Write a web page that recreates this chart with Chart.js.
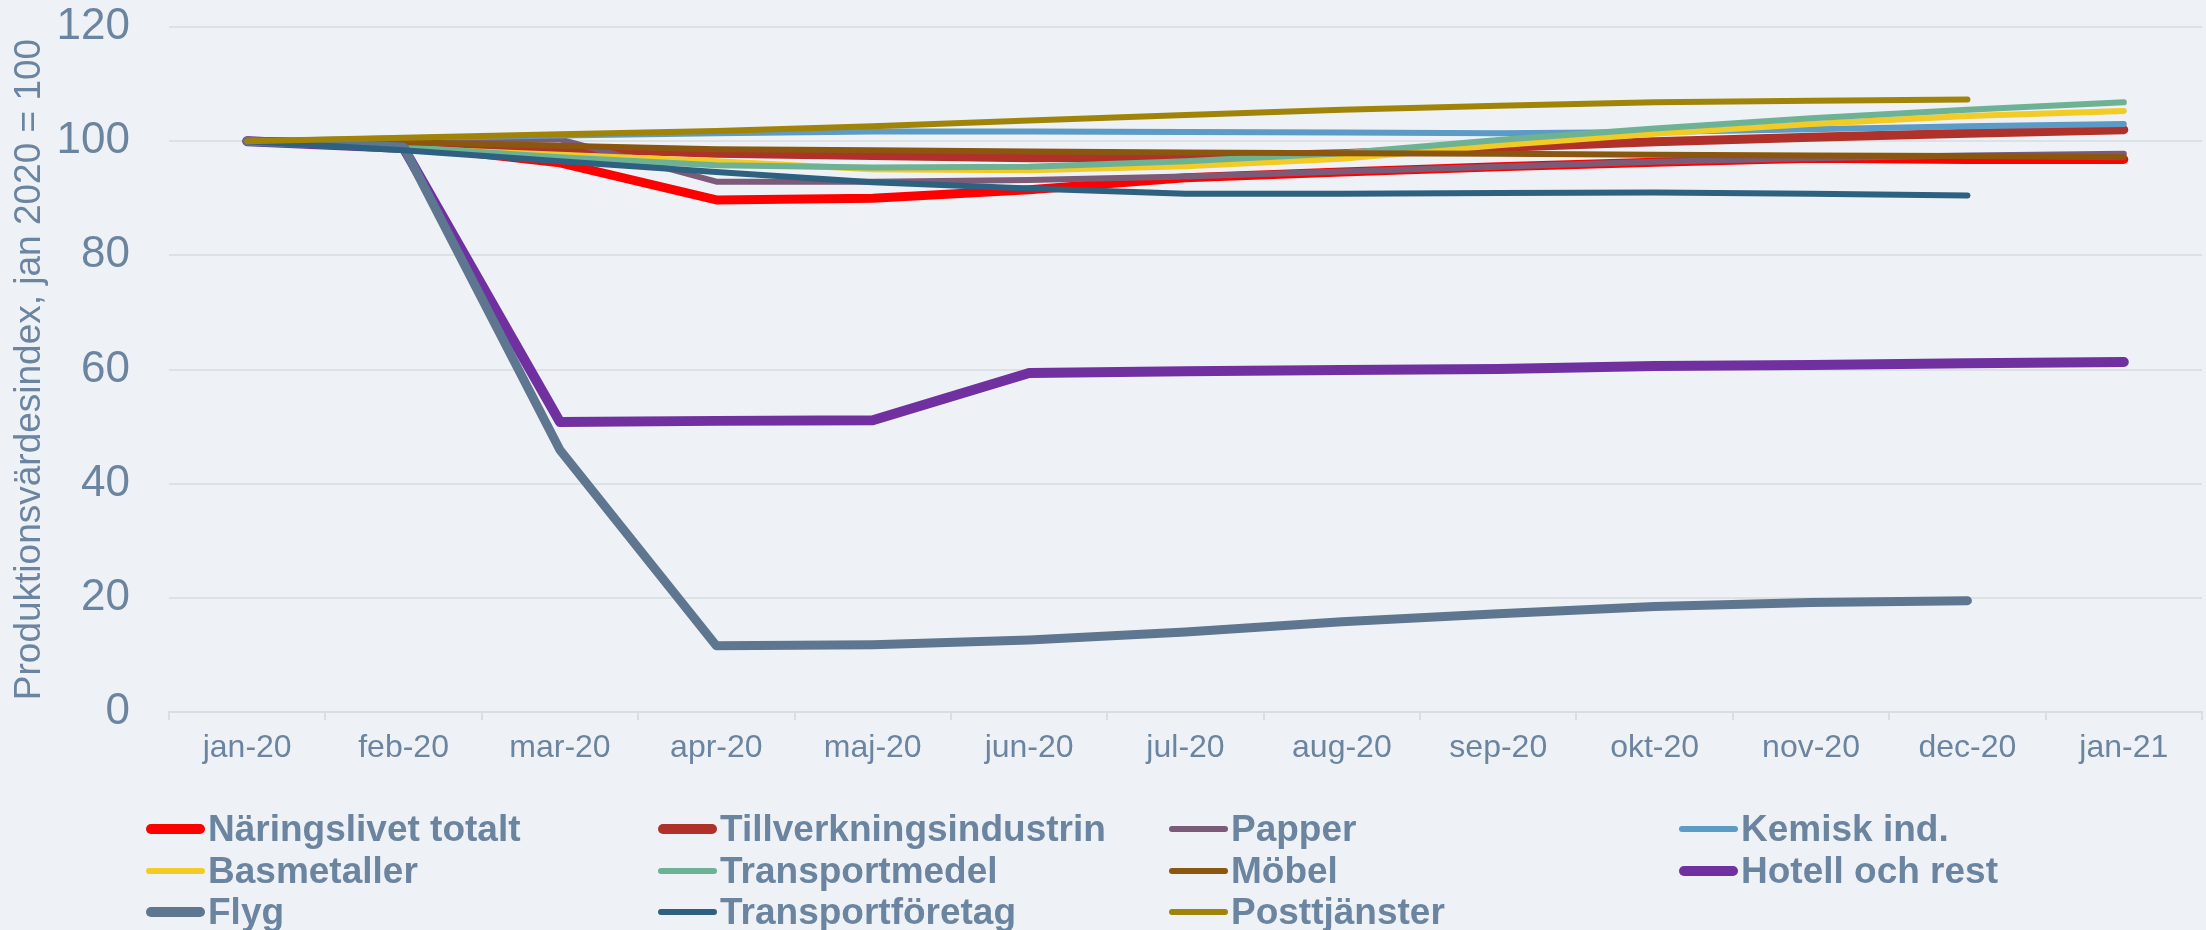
<!DOCTYPE html>
<html>
<head>
<meta charset="utf-8">
<script src="https://cdn.jsdelivr.net/npm/chart.js@4/dist/chart.umd.min.js"></script>
<style>
html,body{margin:0;padding:0;background:#EEF2F6;width:2206px;height:930px;overflow:hidden;font-family:'Liberation Sans',Arial,sans-serif;}
#wrap{position:absolute;left:0;top:0;width:2206px;height:790px;}
#legend{position:absolute;left:0;top:0;width:2206px;height:930px;pointer-events:none;}
.item{position:absolute;display:flex;align-items:center;height:42px;}
.sw{width:59px;border-radius:6px;margin-right:3px;}
.lbl{font-weight:bold;font-size:37px;color:#6B84A0;white-space:nowrap;line-height:42px;}
</style>
</head>
<body>
<div id="wrap"><canvas id="c" width="2206" height="790"></canvas></div>
<div id="legend"></div>
<script>
// Categories
const labels = ['jan-20','feb-20','mar-20','apr-20','maj-20','jun-20','jul-20','aug-20','sep-20','okt-20','nov-20','dec-20','jan-21'];
// Y ticks
const yTicks = [0,20,40,60,80,100,120];
const yTitle = 'Produktionsvärdesindex, jan 2020 = 100';

// Series values
const naringslivet     = [100, 99.3, 96.2, 89.7, 90.0, 91.5, 93.6, 94.6, 95.5, 96.3, 97.0, 96.8, 96.8];
const tillverkning     = [100, 99.6, 98.8, 97.9, 97.5, 97.1, 97.2, 97.8, 98.9, 99.9, 100.7, 101.4, 102.0];
const papper           = [100, 100.0, 100.3, 92.9, 92.9, 93.2, 93.8, 94.7, 95.5, 96.4, 97.0, 97.5, 97.8];
const kemisk           = [100, 100.5, 101.0, 101.4, 101.7, 101.7, 101.6, 101.5, 101.4, 101.6, 102.1, 102.6, 103.0];
const basmetaller      = [100, 98.7, 97.6, 96.5, 95.1, 94.9, 95.6, 96.9, 99.3, 101.3, 103.0, 104.4, 105.3];
const transportmedel   = [100, 99.0, 97.2, 95.8, 95.4, 95.5, 96.5, 97.9, 100.2, 102.2, 104.0, 105.5, 106.8];
const mobel            = [100, 99.8, 99.2, 98.6, 98.4, 98.2, 98.0, 97.9, 97.8, 97.6, 97.5, 97.4, 97.2];
const hotell           = [100, 98.8, 50.8, 51.0, 51.1, 59.4, 59.7, 59.9, 60.1, 60.6, 60.8, 61.1, 61.3];
const flyg             = [100, 99.0, 45.9, 11.6, 11.8, 12.6, 14.0, 15.8, 17.2, 18.5, 19.2, 19.5, null];
const transportforetag = [100, 98.4, 96.5, 94.6, 92.8, 91.7, 90.8, 90.8, 90.9, 91.0, 90.8, 90.5, null];
const posttjanster     = [100, 100.6, 101.2, 101.8, 102.6, 103.6, 104.6, 105.5, 106.2, 106.8, 107.1, 107.3, null];

const seriesNames = ['Näringslivet totalt','Tillverkningsindustrin','Papper','Kemisk ind.','Basmetaller','Transportmedel','Möbel','Hotell och rest','Flyg','Transportföretag','Posttjänster'];
const seriesData = [naringslivet, tillverkning, papper, kemisk, basmetaller, transportmedel, mobel, hotell, flyg, transportforetag, posttjanster];
const seriesColors = ['#FF0000','#B0302A','#7B5B78','#5B9BC6','#F2CB25','#6DB294','#8B560E','#7030A0','#5E7690','#2E6080','#A0840A'];
const seriesWidths = [9, 9, 6, 6, 6, 6, 6, 10, 9, 6, 6];

const textColor = '#6B84A0';
Chart.defaults.font.family = "'Liberation Sans', Arial, sans-serif";
Chart.defaults.color = textColor;

const datasets = seriesNames.map((n, i) => ({
  label: n,
  data: seriesData[i],
  borderColor: seriesColors[i],
  backgroundColor: seriesColors[i],
  borderWidth: seriesWidths[i],
  pointRadius: 0,
  pointHoverRadius: 0,
  tension: 0,
  fill: false,
  borderCapStyle: 'round',
  borderJoinStyle: 'round',
  spanGaps: false,
  order: seriesNames.length - i
}));

new Chart(document.getElementById('c'), {
  type: 'line',
  data: { labels: labels, datasets: datasets },
  options: {
    responsive: false,
    animation: false,
    devicePixelRatio: 1,
    layout: { padding: { top: 27, right: 4, left: 0, bottom: 0 } },
    plugins: { legend: { display: false }, tooltip: { enabled: false } },
    scales: {
      x: {
        type: 'category',
        offset: true,
        grid: { display: true, offset: true, drawOnChartArea: false, drawTicks: true, tickLength: 8, color: '#D9DEE3', lineWidth: 2 },
        border: { display: true, color: '#D9DEE3', width: 2 },
        ticks: { color: textColor, font: { size: 32 }, padding: 9, maxRotation: 0, autoSkip: false },
        afterFit: (s) => { s.height = 78; s.paddingLeft = 0; s.paddingRight = 0; }
      },
      y: {
        min: 0, max: 120,
        afterBuildTicks: (s) => { s.ticks = yTicks.map(v => ({ value: v })); },
        grid: { color: '#DCE1E6', lineWidth: 2, drawTicks: false },
        border: { display: false },
        ticks: { color: textColor, font: { size: 44 }, padding: 39 },
        title: { display: true, text: yTitle, color: textColor, font: { size: 37 }, padding: { top: 8, bottom: 0 } },
        afterFit: (s) => { s.width = 169; s.paddingTop = 0; s.paddingBottom = 0; }
      }
    }
  }
});

// Legend (HTML, real text)
const legendCols = [146, 658, 1169, 1679];
const legendRows = [808, 850, 891];
const lg = document.getElementById('legend');
seriesNames.forEach((n, i) => {
  const r = Math.floor(i / 4), c = i % 4;
  const it = document.createElement('div');
  it.className = 'item';
  it.style.left = legendCols[c] + 'px';
  it.style.top = legendRows[r] + 'px';
  const sw = document.createElement('div');
  sw.className = 'sw';
  sw.style.height = (seriesWidths[i] >= 9 ? 10 : 6) + 'px';
  sw.style.background = seriesColors[i];
  const lb = document.createElement('span');
  lb.className = 'lbl';
  lb.textContent = n;
  it.appendChild(sw); it.appendChild(lb);
  lg.appendChild(it);
});
</script>
</body>
</html>
